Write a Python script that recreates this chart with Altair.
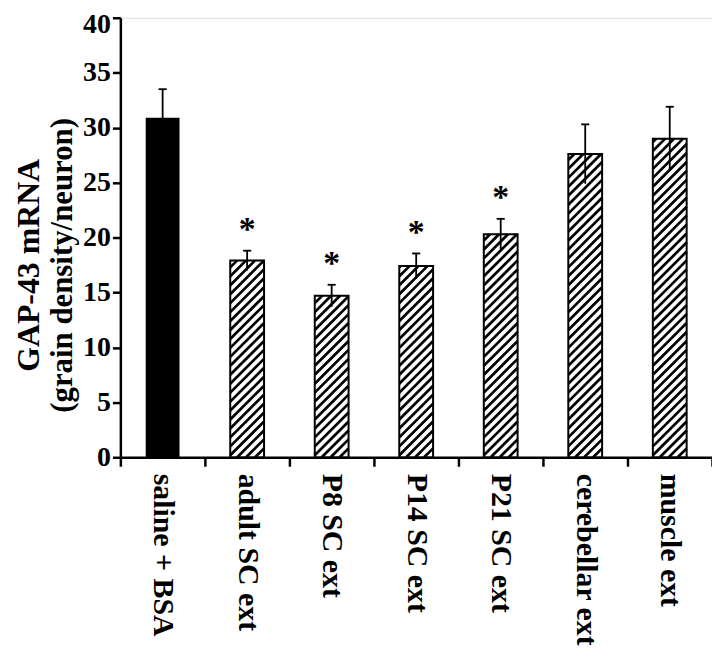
import json
import altair as alt
import pandas as pd

# ---- data ----
categories = ["saline + BSA", "adult SC ext", "P8 SC ext", "P14 SC ext",
              "P21 SC ext", "cerebellar ext", "muscle ext"]
means = [30.9, 17.9, 14.7, 17.4, 20.3, 27.6, 29.0]
sems = [2.6, 0.9, 1.0, 1.15, 1.4, 2.7, 2.9]
significant = [False, True, True, True, True, False, False]
hatched = [False, True, True, True, True, True, True]
y_ticks = [0, 5, 10, 15, 20, 25, 30, 35, 40]
title_lines = ["GAP-43 mRNA", "(grain density/neuron)"]

df = pd.DataFrame({
    "cat": categories,
    "idx": list(range(len(categories))),
    "mean": means,
    "sem": sems,
    "sig": significant,
    "hatch": hatched,
    "star": ["*" if s else "" for s in significant],
})

# ---- layout / style constants ----
W, H = 595, 442
YMAX = 40
NCAT = len(categories)
BAR_HALF = 0.2          # half bar width in category units
CAP_HALF = 0.048
px_x = W / NCAT
px_y = H / YMAX
RISE = 2 * BAR_HALF * px_x / px_y     # 45 degree stripes
STEP = 9.0 / px_y                     # vertical stripe period
FONT = "Liberation Serif"

x_scale = alt.Scale(domain=[0, NCAT], nice=False, zero=False)
y_scale = alt.Scale(domain=[0, YMAX], nice=False)

label_expr = ("datum.value % 1 == 0 ? '' : " + json.dumps(categories)
              + "[floor(datum.value)]")

x_axis = alt.Axis(
    values=[i / 2 for i in range(2 * NCAT + 1)],
    labelExpr=label_expr,
    tickOpacity={"condition": {"test": "datum.value % 1 != 0", "value": 0}, "value": 1},
    tickSize=9, tickWidth=2.5, tickColor="black",
    domainWidth=2.5, domainColor="black",
    labelAngle=90, labelAlign="left", labelBaseline="middle",
    labelPadding=7, labelFont=FONT, labelFontSize=30, labelFontWeight="bold",
    labelColor="black", labelOverlap=False, labelFlush=False, grid=False,
    title=None,
)
y_axis = alt.Axis(
    values=y_ticks, tickSize=8, tickWidth=2.5, tickColor="black",
    domainWidth=2.5, domainColor="black",
    labelFont=FONT, labelFontSize=28, labelFontWeight="bold", labelColor="black",
    labelOffset={"condition": {"test": f"datum.value == {YMAX}", "value": 7}, "value": 0},
    labelPadding=2, grid=False, title=None,
)


def X(field):
    return alt.X(field, type="quantitative", scale=x_scale, axis=x_axis, title=None)


def Y(field):
    return alt.Y(field, type="quantitative", scale=y_scale, axis=y_axis, title=None)


base = alt.Chart(df).transform_calculate(
    cx="datum.idx + 0.5",
    xl=f"datum.idx + 0.5 - {BAR_HALF}",
    xr=f"datum.idx + 0.5 + {BAR_HALF}",
    zero="0",
    lo="datum.mean - datum.sem",
    hi="datum.mean + datum.sem",
    capl=f"datum.idx + 0.5 - {CAP_HALF}",
    capr=f"datum.idx + 0.5 + {CAP_HALF}",
)

bars = base.mark_rect(strokeWidth=0).encode(
    x=X("xl"), x2="xr", y=Y("mean"), y2="zero",
    fill=alt.condition("datum.hatch", alt.value("white"), alt.value("black")),
)

stripes = base.transform_filter("datum.hatch").transform_calculate(
    off=f"sequence({-RISE}, datum.mean, {STEP})"
).transform_flatten(["off"]).transform_calculate(
    ys="max(datum.off, 0)",
    ye=f"min(datum.off + {RISE}, datum.mean)",
).transform_calculate(
    xs=f"datum.xl + (datum.ys - datum.off) / {RISE} * {2 * BAR_HALF}",
    xe=f"datum.xl + (datum.ye - datum.off) / {RISE} * {2 * BAR_HALF}",
).transform_filter("datum.ye > datum.ys").mark_rule(
    color="black", strokeWidth=2.7, strokeCap="butt"
).encode(x=X("xs"), x2="xe", y=Y("ys"), y2="ye")

outlines = base.transform_filter("datum.hatch").mark_rect(
    fillOpacity=0, stroke="black", strokeWidth=2
).encode(x=X("xl"), x2="xr", y=Y("mean"), y2="zero")

err = base.mark_rule(color="black", strokeWidth=1.8).encode(
    x=X("cx"), y=Y("lo"), y2="hi"
)
caps = base.mark_rule(color="black", strokeWidth=1.8).encode(
    x=X("capl"), x2="capr", y=Y("hi")
)
stars = base.transform_filter("datum.sig").mark_text(
    font=FONT, fontSize=34, fontWeight="bold", baseline="alphabetic",
    align="center", dy=-11, color="black"
).encode(x=X("cx"), y=Y("hi"), text="star:N")

title_df = pd.DataFrame({"t": title_lines, "line": [0, 1]})
title1 = alt.Chart(title_df).transform_filter("datum.line == 0").mark_text(
    font=FONT, fontSize=32, fontWeight="bold", angle=270,
    align="center", baseline="middle", color="black"
).encode(x=alt.value(-92), y=alt.value(249), text="t:N")
title2 = alt.Chart(title_df).transform_filter("datum.line == 1").mark_text(
    font=FONT, fontSize=31, fontWeight="bold", angle=270,
    align="center", baseline="middle", color="black"
).encode(x=alt.value(-58), y=alt.value(249), text="t:N")

chart = alt.layer(bars, stripes, outlines, err, caps, stars, title1, title2).properties(
    width=W, height=H,
    autosize=alt.AutoSizeParams(type="none"),
    padding={"left": 113, "top": 8, "right": 0, "bottom": 193},
).configure_view(stroke=None).configure(background="white")

chart.save("out.html", embed_options={"renderer": "svg", "actions": False})
